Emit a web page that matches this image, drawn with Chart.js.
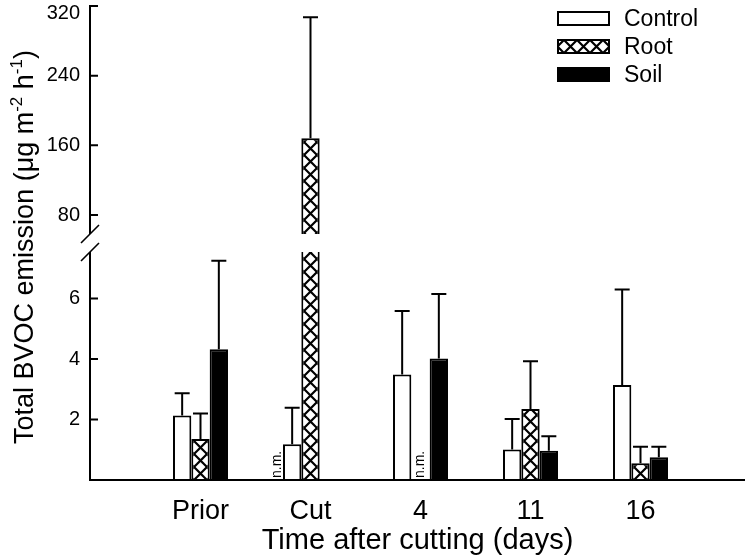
<!DOCTYPE html>
<html>
<head>
<meta charset="utf-8">
<script src="https://cdn.jsdelivr.net/npm/chart.js@4/dist/chart.umd.min.js"></script>
<style>
  body { margin: 0; background: #fff; }
  canvas { display: block; }
</style>
</head>
<body>
<canvas id="chart" width="756" height="558"></canvas>
<script>
// data
const categories = ['Prior', 'Cut', '4', '11', '16'];
const seriesNames = ['Control', 'Root', 'Soil'];
const control = [2.13, 1.18, 3.49, 1.01, 3.14];
const controlErr = [0.74, 1.21, 2.10, 1.01, 3.16];
const root = [1.36, 168, null, 2.35, 0.55];
const rootErr = [0.84, 139, null, 1.58, 0.55];
const soil = [4.32, null, 4.02, 0.97, 0.75];
const soilErr = [2.93, null, 2.13, 0.48, 0.35];
const notMeasured = [null, 'n.m.', 'n.m.', null, null];
const yTicks = [2, 4, 6, 80, 160, 240, 320];
const axisBreak = [7.54, 58.2]; // top of lower part, bottom of upper part

const FONT = "'Liberation Sans', Arial, sans-serif";
Chart.defaults.font.family = FONT;
Chart.defaults.color = '#000';

// y scale with a gap between the two ranges
class BrokenScale extends Chart.LinearScale {
  getPixelForValue(value) {
    const lo = axisBreak[0], hi = axisBreak[1];
    const lowFrac = 0.481, highFrac = 0.519;
    let f;
    if (value <= lo) f = value / lo * lowFrac;
    else if (value >= hi) f = highFrac + (value - hi) / (this.max - hi) * (1 - highFrac);
    else f = lowFrac + (value - lo) / (hi - lo) * (highFrac - lowFrac);
    return this.bottom - f * (this.bottom - this.top);
  }
  getPixelForTick(index) {
    // keep the top label inside the canvas
    return Math.max(super.getPixelForTick(index), this.top + 7);
  }
}
BrokenScale.id = 'broken';
BrokenScale.defaults = Chart.LinearScale.defaults;
Chart.register(BrokenScale);

function crossPattern(cx, cy) {
  const s = 13;
  const c = document.createElement('canvas');
  c.width = s; c.height = s;
  const g = c.getContext('2d');
  g.fillStyle = '#fff';
  g.fillRect(0, 0, s, s);
  g.strokeStyle = '#000';
  g.lineWidth = 2.2;
  g.beginPath();
  g.moveTo(-1, -1); g.lineTo(s + 1, s + 1);
  g.moveTo(s + 1, -1); g.lineTo(-1, s + 1);
  g.stroke();
  const p = g.createPattern(c, 'repeat');
  p.setTransform(new DOMMatrix().translate(cx - s / 2, cy));
  return p;
}

function rootFill(ctx) {
  if (ctx.type !== 'data') return '#fff';
  const xs = ctx.chart.scales.x, ys = ctx.chart.scales.y;
  return crossPattern(xs.getPixelForValue(ctx.dataIndex), ys.getPixelForValue(0));
}

const values = [control, root, soil];
const errors = [controlErr, rootErr, soilErr];
const pts = arr => arr.map((v, i) => ({ x: i, y: v }));

const decorPlugin = {
  id: 'decor',
  afterDatasetsDraw(chart) {
    const { ctx, chartArea: a, scales: { x, y } } = chart;
    const yLow = y.getPixelForValue(axisBreak[0]);
    const yHigh = y.getPixelForValue(axisBreak[1]);
    ctx.save();
    // cut through the tall bar
    ctx.fillStyle = '#fff';
    ctx.fillRect(a.left + 1, yHigh, a.right - a.left, yLow - yHigh);

    // error bars (upper only)
    ctx.strokeStyle = '#000';
    ctx.lineWidth = 2;
    values.forEach((vals, d) => {
      const meta = chart.getDatasetMeta(d);
      meta.data.forEach((bar, j) => {
        const v = vals[j], e = errors[d][j];
        if (v == null || e == null) return;
        const top = y.getPixelForValue(v + e);
        ctx.beginPath();
        ctx.moveTo(bar.x, bar.y);
        ctx.lineTo(bar.x, top);
        ctx.moveTo(bar.x - 7.5, top);
        ctx.lineTo(bar.x + 7.5, top);
        ctx.stroke();
      });
    });

    // axes with break
    ctx.lineWidth = 2;
    ctx.beginPath();
    ctx.moveTo(a.left, a.top - 1);
    ctx.lineTo(a.left, yHigh);
    ctx.moveTo(a.left, yLow);
    ctx.lineTo(a.left, a.bottom);
    ctx.moveTo(a.left - 1, a.bottom);
    ctx.lineTo(a.right, a.bottom);
    yTicks.forEach(v => {
      const p = y.getPixelForValue(v);
      ctx.moveTo(a.left, p);
      ctx.lineTo(a.left + 8, p);
    });
    ctx.stroke();
    ctx.lineWidth = 1.6;
    ctx.beginPath();
    [yHigh, yLow].forEach(p => {
      ctx.moveTo(a.left - 9, p + 9);
      ctx.lineTo(a.left + 9, p - 9);
    });
    ctx.stroke();
    ctx.restore();
  },
  afterDraw(chart) {
    const { ctx, chartArea: a, scales: { x } } = chart;
    ctx.save();
    ctx.fillStyle = '#000';

    // n.m. notes
    const slotW = chart.getDatasetMeta(0).data[0].width;
    const slotShift = [0, -1.8, 0, 0, 0];
    ctx.font = '14px ' + FONT;
    notMeasured.forEach((t, i) => {
      if (!t) return;
      ctx.save();
      ctx.translate(x.getPixelForValue(i) + slotShift[i] * slotW, a.bottom - 2);
      ctx.rotate(-Math.PI / 2);
      ctx.textAlign = 'left';
      ctx.textBaseline = 'middle';
      ctx.fillText(t, 0, 0);
      ctx.restore();
    });

    // legend
    const fills = ['#fff', crossPattern(583.5, 40), '#000'];
    ctx.font = '23px ' + FONT;
    ctx.textBaseline = 'middle';
    ctx.textAlign = 'left';
    seriesNames.forEach((name, k) => {
      const bx = 558, by = 12 + k * 28, bw = 51, bh = 13;
      ctx.fillStyle = fills[k];
      ctx.fillRect(bx, by, bw, bh);
      ctx.strokeStyle = '#000';
      ctx.lineWidth = 2;
      ctx.strokeRect(bx, by, bw, bh);
      ctx.fillStyle = '#000';
      ctx.fillText(name, 624, by + bh / 2 + 1);
    });

    // y title with superscripts
    const parts = [['Total BVOC emission (\u03bcg m', false], ['-2', true], [' h', false], ['-1', true], [')', false]];
    const big = '27px ' + FONT, small = '17px ' + FONT;
    let total = 0;
    parts.forEach(([t, sup]) => { ctx.font = sup ? small : big; total += ctx.measureText(t).width; });
    ctx.translate(33, 247);
    ctx.rotate(-Math.PI / 2);
    ctx.textBaseline = 'alphabetic';
    let px = -total / 2;
    parts.forEach(([t, sup]) => {
      ctx.font = sup ? small : big;
      ctx.fillText(t, px, sup ? -11 : 0);
      px += ctx.measureText(t).width;
    });
    ctx.restore();
  }
};

new Chart(document.getElementById('chart'), {
  type: 'bar',
  data: {
    datasets: [
      { label: seriesNames[0], data: pts(control), backgroundColor: '#fff' },
      { label: seriesNames[1], data: pts(root), backgroundColor: rootFill },
      { label: seriesNames[2], data: pts(soil), backgroundColor: '#000' }
    ]
  },
  options: {
    responsive: false,
    animation: false,
    events: [],
    layout: { padding: { top: 6, right: 11, left: 0, bottom: 0 } },
    datasets: {
      bar: { categoryPercentage: 0.5, barPercentage: 1, borderColor: '#000', borderWidth: 2 }
    },
    plugins: { legend: { display: false }, tooltip: { enabled: false } },
    scales: {
      x: {
        type: 'linear',
        offset: false,
        min: -1.0045,
        max: 4.95,
        grid: { display: false, drawTicks: false, offset: false },
        border: { display: false },
        afterBuildTicks: s => { s.ticks = categories.map((c, i) => ({ value: i })); },
        ticks: { autoSkip: false, maxRotation: 0, padding: 15, font: { size: 27 }, callback: v => categories[v] },
        title: { display: true, text: 'Time after cutting (days)', font: { size: 29 }, padding: 0 },
        afterFit: s => { s.height = 78; s.paddingLeft = 0; s.paddingRight = 0; }
      },
      y: {
        type: 'broken',
        min: 0,
        max: 320,
        grid: { display: false, drawTicks: false },
        border: { display: false },
        afterBuildTicks: s => { s.ticks = yTicks.map(v => ({ value: v })); },
        ticks: { autoSkip: false, padding: 10, font: { size: 20 } },
        afterFit: s => { s.width = 90; s.paddingTop = 0; s.paddingBottom = 0; }
      }
    }
  },
  plugins: [decorPlugin]
});
</script>
</body>
</html>
